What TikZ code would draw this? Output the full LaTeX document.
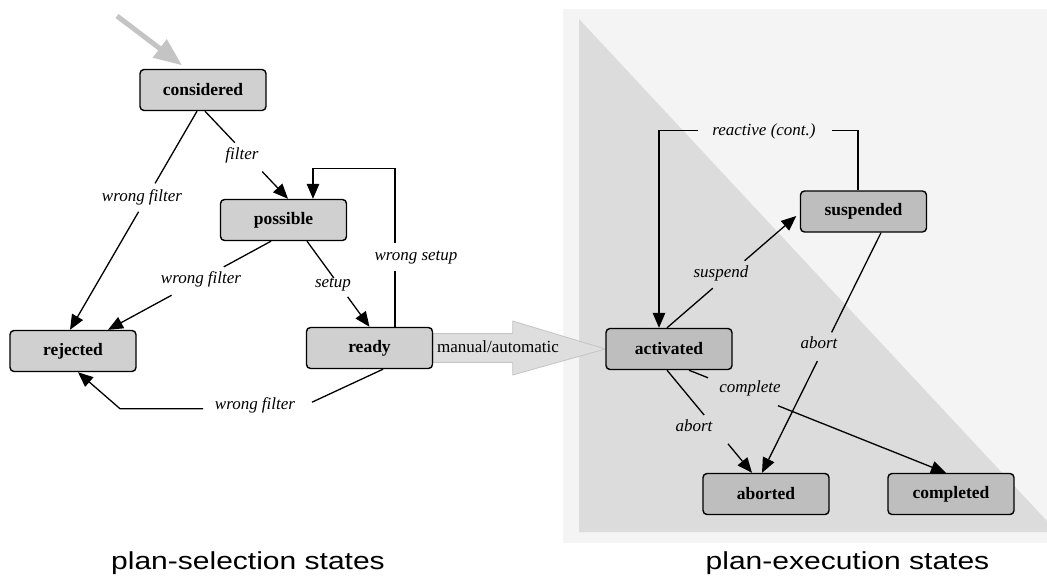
\documentclass[tikz,border=0pt]{standalone}
\usepackage{fontspec}
\setmainfont{Liberation Serif}
\newfontfamily\capfont{Liberation Sans}
\usetikzlibrary{arrows.meta,calc,backgrounds}
\definecolor{selgray}{HTML}{D0D0D0}
\definecolor{exgray}{HTML}{BEBEBE}
\definecolor{panelout}{HTML}{F4F4F4}
\definecolor{panelin}{HTML}{DCDCDC}
\definecolor{initgray}{HTML}{C4C4C4}
\definecolor{blockfill}{HTML}{DEDEDE}
\definecolor{blockedge}{HTML}{C4C4C4}
\begin{document}
\begin{tikzpicture}[x=1pt,y=-1pt,
  state/.style={draw=black, line width=1.4pt, rounded corners=4pt, minimum width=126pt, minimum height=41pt, inner sep=0pt, font=\bfseries\fontsize{17.5}{20}\selectfont},
  selstate/.style={state, fill=selgray},
  exstate/.style={state, fill=exgray},
  lbl/.style={font=\itshape\fontsize{17}{20}\selectfont, inner sep=0pt, text height=12pt, text depth=4pt},
  conn/.style={line width=1.3pt},
  arr/.style={conn, -{Triangle[length=15pt,width=12.5pt]}},
  initarr/.style={draw=initgray, line width=5pt, -{Triangle[length=28pt,width=22pt]}},
  caption/.style={inner sep=0pt, anchor=base}
]
\useasboundingbox (0,0) rectangle (1047,576);

% states
\node[selstate] (considered) at (203,90) {considered};
\node[selstate] (possible) at (283.5,220) {possible};
\node[selstate] (rejected) at (73,351) {rejected};
\node[selstate] (ready) at (369.5,348) {ready};
\node[exstate] (activated) at (669,349) {activated};
\node[exstate] (suspended) at (863.5,211.5) {suspended};
\node[exstate] (aborted) at (766,494) {aborted};
\node[exstate] (completed) at (951,494) {completed};

% background panels and block arrow
\begin{scope}[on background layer]
  \fill[panelout] (563,9) rectangle (1047,543);
  \fill[panelin] (579,19) -- (579,532) -- (1047,532) -- (1047,521) -- cycle;
  \filldraw[fill=blockfill, draw=blockedge, line width=0.8pt]
    ($(ready.east)+(0,-14.5)$) -- ++(79.5,0) -- ++(0,-12.5) -- (activated.west)
    -- ($(ready.east)+(79.5,27)$) -- ++(0,-12.5) -- ($(ready.east)+(0,14.5)$) -- cycle;
\end{scope}
\node[font=\fontsize{17}{20}\selectfont, inner sep=0pt] (lman) at (498,347) {manual/automatic};

% initial arrow
\coordinate (init) at (117,16);
\draw[initarr] (init) -- ($(considered.north)+(-21,-3.5)$);

% labels
\node[lbl] (lwf1) at (142,197) {wrong filter};
\node[lbl] (lfilter) at (242,155) {filter};
\node[lbl] (lwf2) at (201,279) {wrong filter};
\node[lbl] (lsetup) at (333,283) {setup};
\node[lbl] (lws) at (416,256) {wrong setup};
\node[lbl] (lwf3) at (255,405) {wrong filter};
\node[lbl] (lsusp) at (721,273) {suspend};
\node[lbl] (lreact) at (764,131) {reactive (cont.)};
\node[lbl] (labort1) at (819,344) {abort};
\node[lbl] (labort2) at (694,427) {abort};
\node[lbl] (lcomplete) at (750,388) {complete};

% considered -> rejected
\coordinate (a1) at ($(considered.south)+(-6,0)$);
\coordinate (a2) at ($(rejected.north)+(-3,0)$);
\draw[conn] (a1) -- ($(a1)!0.33!(a2)$);
\draw[arr] ($(a1)!0.46!(a2)$) -- (a2);

% considered -> possible
\coordinate (b1) at ($(considered.south)+(2,0)$);
\coordinate (b2) at ($(possible.north)+(4.5,0)$);
\draw[conn] (b1) -- ($(b1)!0.36!(b2)$);
\draw[arr] ($(b1)!0.69!(b2)$) -- (b2);

% possible -> rejected
\coordinate (c1) at ($(possible.south)+(-12.5,0)$);
\coordinate (c2) at ($(rejected.north)+(35,0)$);
\draw[conn] (c1) -- ($(c1)!0.29!(c2)$);
\draw[arr] ($(c1)!0.61!(c2)$) -- (c2);

% possible -> ready
\coordinate (d1) at ($(possible.south)+(23.5,0)$);
\coordinate (d2) at (ready.north);
\draw[conn] (d1) -- ($(d1)!0.43!(d2)$);
\draw[arr] ($(d1)!0.65!(d2)$) -- (d2);

% ready -> possible (wrong setup)
\coordinate (e1) at ($(ready.north)+(25.5,0)$);
\draw[conn] (e1) -- ++(0,-56);
\draw[arr] ($(e1)+(0,-84)$) -- ++(0,-74) -| ($(possible.north)+(29.5,0)$);

% ready -> rejected (wrong filter)
\coordinate (f1) at ($(ready.south)+(13.5,0)$);
\draw[conn] (f1) -- ++(-71,33);
\draw[arr] ($(rejected.south)+(130,36.5)$) -- ($(rejected.south)+(47,36.5)$) -- ($(rejected.south)+(5,0)$);

% activated -> suspended
\coordinate (g1) at ($(activated.north)+(-2,0)$);
\coordinate (g2) at ($(suspended.west)+(-3.5,4.5)$);
\draw[conn] (g1) -- ($(g1)!0.354!(g2)$);
\draw[arr] ($(g1)!0.6!(g2)$) -- (g2);

% suspended -> activated (reactive)
\coordinate (h1) at ($(suspended.north)+(-5.5,0)$);
\draw[conn] (h1) -- ++(0,-60) -- ++(-26,0);
\draw[arr] ($(h1)+(-160,-60)$) -| ($(activated.north)+(-10,0)$);

% suspended -> aborted
\coordinate (i1) at ($(suspended.south)+(17.5,0)$);
\coordinate (i2) at ($(aborted.north)+(-4,0)$);
\draw[conn] (i1) -- ($(i1)!0.415!(i2)$);
\draw[arr] ($(i1)!0.535!(i2)$) -- (i2);

% activated -> aborted
\coordinate (j1) at ($(activated.south)+(-2,0)$);
\coordinate (j2) at ($(aborted.north)+(-14,0)$);
\draw[conn] (j1) -- ($(j1)!0.437!(j2)$);
\draw[arr] ($(j1)!0.718!(j2)$) -- (j2);

% activated -> completed
\coordinate (k1) at ($(activated.south)+(20,0)$);
\coordinate (k2) at ($(completed.north)+(-5,0)$);
\draw[conn] (k1) -- ($(k1)!0.074!(k2)$);
\draw[arr] ($(k1)!0.346!(k2)$) -- (k2);

% captions
\node[caption] (cap1) at (248,569.3) {\capfont\scalebox{1.22}[1]{\fontsize{24.6}{30}\selectfont plan-selection states}};
\node[caption] (cap2) at (847.5,569.3) {\capfont\scalebox{1.22}[1]{\fontsize{24.6}{30}\selectfont plan-execution states}};
\end{tikzpicture}
\end{document}
